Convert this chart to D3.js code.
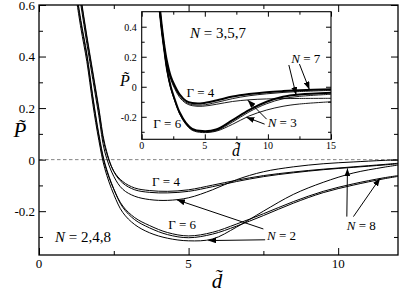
<!DOCTYPE html>
<html>
<head>
<meta charset="utf-8">
<script src="https://cdn.jsdelivr.net/npm/d3@7"></script>
<style>
  body { margin: 0; background: #fff; }
  text { font-family: "Liberation Serif", "DejaVu Serif", serif; fill: #000; }
</style>
</head>
<body>
<svg id="chart" width="399" height="290"></svg>
<script>
// main panel: N = 2,4,8 ; shared d grid
const dMain = [1.2, 1.4, 1.6, 1.8, 2.0, 2.2, 2.5, 2.8, 3.2, 3.7, 4.3, 5.0, 5.8, 6.6, 7.5, 8.5, 9.5, 10.5, 11.5, 12];
const g4n2 = [0.75, 0.60, 0.45, 0.31, 0.17, 0.03, -0.065, -0.115, -0.142, -0.155, -0.158, -0.148, -0.117, -0.078, -0.047, -0.028, -0.016, -0.009, -0.003, -0.001];
const g4n4 = [0.78, 0.62, 0.47, 0.33, 0.19, 0.05, -0.045, -0.085, -0.110, -0.120, -0.123, -0.117, -0.099, -0.080, -0.062, -0.048, -0.037, -0.028, -0.019, -0.014];
const g4n8 = [0.79, 0.63, 0.48, 0.34, 0.20, 0.06, -0.046, -0.091, -0.117, -0.127, -0.129, -0.123, -0.105, -0.085, -0.066, -0.051, -0.039, -0.030, -0.021, -0.016];
const g6n2 = [0.66, 0.51, 0.38, 0.215, 0.075, -0.035, -0.135, -0.205, -0.252, -0.284, -0.305, -0.315, -0.308, -0.262, -0.200, -0.135, -0.088, -0.052, -0.030, -0.021];
const g6n4 = [0.68, 0.53, 0.40, 0.235, 0.09, -0.020, -0.115, -0.180, -0.225, -0.256, -0.283, -0.296, -0.282, -0.250, -0.210, -0.163, -0.123, -0.094, -0.071, -0.062];
const g6n8 = [0.69, 0.54, 0.41, 0.245, 0.10, -0.013, -0.114, -0.185, -0.233, -0.265, -0.291, -0.303, -0.289, -0.258, -0.217, -0.169, -0.128, -0.099, -0.075, -0.065];

// inset: N = 3,5,7
const dInset = [1.4, 1.6, 1.8, 2.0, 2.3, 2.6, 3.0, 3.5, 4.0, 4.8, 5.9, 7.2, 8.5, 9.9, 11.2, 12.5, 15];
const i4n7 = [0.56, 0.40, 0.27, 0.17, 0.07, 0.01, -0.050, -0.093, -0.108, -0.110, -0.092, -0.065, -0.048, -0.036, -0.029, -0.024, -0.017];
const i4n5 = [0.55, 0.39, 0.26, 0.16, 0.06, 0.00, -0.060, -0.103, -0.119, -0.122, -0.105, -0.079, -0.060, -0.047, -0.038, -0.032, -0.024];
const i4n3 = [0.54, 0.38, 0.25, 0.15, 0.05, -0.01, -0.070, -0.110, -0.126, -0.130, -0.117, -0.098, -0.087, -0.081, -0.079, -0.078, -0.077];
const i6n7 = [0.53, 0.37, 0.24, 0.12, 0.00, -0.08, -0.170, -0.240, -0.280, -0.295, -0.285, -0.222, -0.155, -0.100, -0.067, -0.052, -0.040];
const i6n5 = [0.525, 0.365, 0.235, 0.115, -0.005, -0.085, -0.175, -0.245, -0.285, -0.300, -0.292, -0.235, -0.168, -0.113, -0.080, -0.064, -0.050];
const i6n3 = [0.52, 0.36, 0.23, 0.11, -0.01, -0.09, -0.180, -0.250, -0.290, -0.305, -0.296, -0.250, -0.195, -0.155, -0.130, -0.115, -0.100];

// tick labels
const mainXTicks = [0, 5, 10];
const mainYTicks = [-0.2, 0, 0.2, 0.4, 0.6];
const insetXTicks = [0, 5, 10, 15];
const insetYTicks = [-0.2, 0, 0.2, 0.4];

// annotations (data coords)
const mainLabels = [
  {n: "Γ", rest: " = 4", d: 3.78, p: -0.102, it: false},
  {n: "Γ", rest: " = 6", d: 4.32, p: -0.271, it: false},
  {n: "N", rest: " = 2", d: 7.62, p: -0.311, it: true},
  {n: "N", rest: " = 8", d: 10.29, p: -0.273, it: true}
];
const mainArrows = [
  [7.50, -0.269, 4.61, -0.156],
  [7.56, -0.311, 5.66, -0.314],
  [10.29, -0.221, 10.31, -0.034],
  [10.51, -0.221, 11.40, -0.072]
];
const insetLabels = [
  {n: "Γ", rest: " = 4", d: 3.55, p: -0.069, it: false},
  {n: "Γ", rest: " = 6", d: 0.92, p: -0.272, it: false},
  {n: "N", rest: " = 7", d: 11.85, p: 0.155, it: true},
  {n: "N", rest: " = 3", d: 9.98, p: -0.269, it: true}
];
const insetArrows = [
  [11.66, 0.145, 12.24, -0.055],
  [12.5, 0.151, 13.29, -0.019],
  [9.9, -0.216, 8.4, -0.089],
  [9.74, -0.249, 8.29, -0.203]
];

const svg = d3.select("#chart");

svg.append("defs").append("marker")
    .attr("id", "head")
    .attr("viewBox", "0 0 8 6")
    .attr("refX", 8).attr("refY", 3)
    .attr("markerWidth", 8).attr("markerHeight", 6)
    .attr("markerUnits", "userSpaceOnUse")
    .attr("orient", "auto")
  .append("path")
    .attr("d", "M0,0L8,3L0,6z")
    .attr("fill", "#000");

function drawPanel(g, o) {
  const x = o.x, y = o.y;
  const [x0, x1] = x.range(), [y0, y1] = y.range();
  const id = o.id;
  g.append("clipPath").attr("id", id)
    .append("rect").attr("x", x0).attr("y", y1).attr("width", x1 - x0).attr("height", y0 - y1);

  g.append("rect")
    .attr("x", x0).attr("y", y1).attr("width", x1 - x0).attr("height", y0 - y1)
    .attr("fill", "#fff");

  if (o.zeroLine) {
    g.append("line")
      .attr("x1", x0).attr("x2", x1).attr("y1", y(0)).attr("y2", y(0))
      .attr("stroke", "#777").attr("stroke-width", 0.9).attr("stroke-dasharray", "3.5,2.5");
  }

  // ticks on all four sides, pointing inward
  const mk = (axisFn, scale, vals, size, tr) => {
    const a = g.append("g").attr("transform", tr)
      .call(axisFn(scale).tickValues(vals).tickSize(size).tickFormat(""));
    a.select(".domain").remove();
    a.selectAll("line").attr("stroke", "#000").attr("stroke-width", 1);
  };
  mk(d3.axisBottom, x, o.xMajor, -o.major, `translate(0,${y0})`);
  mk(d3.axisBottom, x, o.xMinor, -o.minor, `translate(0,${y0})`);
  mk(d3.axisTop, x, o.xMajor, -o.major, `translate(0,${y1})`);
  mk(d3.axisTop, x, o.xMinor, -o.minor, `translate(0,${y1})`);
  mk(d3.axisLeft, y, o.yMajor, -o.major, `translate(${x0},0)`);
  mk(d3.axisLeft, y, o.yMinor, -o.minor, `translate(${x0},0)`);
  mk(d3.axisRight, y, o.yMajor, -o.major, `translate(${x1},0)`);
  mk(d3.axisRight, y, o.yMinor, -o.minor, `translate(${x1},0)`);

  const line = d3.line().x(d => x(d[0])).y(d => y(d[1])).curve(d3.curveCatmullRom.alpha(0.5));
  g.append("g").attr("clip-path", `url(#${id})`)
    .selectAll("path").data(o.series).join("path")
      .attr("d", s => line(o.grid.map((d, i) => [d, s.v[i]])))
      .attr("fill", "none").attr("stroke", "#000")
      .attr("stroke-width", s => s.w);

  g.append("rect")
    .attr("x", x0).attr("y", y1).attr("width", x1 - x0).attr("height", y0 - y1)
    .attr("fill", "none").attr("stroke", "#000").attr("stroke-width", o.frame);

  g.append("g").selectAll("text").data(o.xTicks).join("text")
    .attr("x", d => x(d)).attr("y", y0 + o.xLabOff)
    .attr("text-anchor", "middle").attr("font-size", o.tickFont)
    .text(d => d);
  g.append("g").selectAll("text").data(o.yTicks).join("text")
    .attr("x", x0 - o.yLabOff).attr("y", d => y(d)).attr("dy", "0.38em")
    .attr("text-anchor", "end").attr("font-size", o.tickFont)
    .text(d => d);

  g.append("g").selectAll("line").data(o.arrows).join("line")
    .attr("x1", a => x(a[0])).attr("y1", a => y(a[1]))
    .attr("x2", a => x(a[2])).attr("y2", a => y(a[3]))
    .attr("stroke", "#000").attr("stroke-width", 1)
    .attr("marker-end", "url(#head)");

  const lab = g.append("g").selectAll("text").data(o.labels).join("text")
    .attr("x", l => x(l.d)).attr("y", l => y(l.p))
    .attr("font-size", o.labFont);
  lab.append("tspan").attr("font-style", l => l.it ? "italic" : "normal").text(l => l.n);
  lab.append("tspan").text(l => l.rest);
}

// main panel
const x = d3.scaleLinear([0, 12], [39, 398]);
const y = d3.scaleLinear([-0.37, 0.6], [255, 5]);
drawPanel(svg.append("g"), {
  id: "clipMain", x, y, zeroLine: true,
  xMajor: [0, 5, 10], xMinor: [2.5, 7.5],
  yMajor: [-0.2, 0, 0.2, 0.4, 0.6], yMinor: [-0.3, -0.1, 0.1, 0.3, 0.5],
  major: 7, minor: 4, frame: 1.3,
  grid: dMain,
  series: [g4n2, g4n4, g4n8, g6n2, g6n4, g6n8].map(v => ({v, w: 1})),
  xTicks: mainXTicks, yTicks: mainYTicks, tickFont: 13, xLabOff: 13, yLabOff: 4,
  arrows: mainArrows, labels: mainLabels, labFont: 13
});

svg.append("text").attr("x", 55).attr("y", 242).attr("font-size", 15)
  .call(t => { t.append("tspan").attr("font-style", "italic").text("N"); t.append("tspan").text(" = 2,4,8"); });

svg.append("text").attr("x", 217).attr("y", 288).attr("text-anchor", "middle")
  .attr("font-size", 21).attr("font-style", "italic").text("d\u0303");
svg.append("text").attr("x", 20).attr("y", 137).attr("text-anchor", "middle")
  .attr("font-size", 21).attr("font-style", "italic").text("P\u0303");

// inset panel
const xi = d3.scaleLinear([0, 15], [141.7, 331]);
const yi = d3.scaleLinear([-0.35, 0.5], [139.3, 11.7]);
drawPanel(svg.append("g"), {
  id: "clipInset", x: xi, y: yi, zeroLine: false,
  xMajor: [0, 5, 10, 15], xMinor: [2.5, 7.5, 12.5],
  yMajor: [-0.2, 0, 0.2, 0.4], yMinor: [-0.3, -0.1, 0.1, 0.3],
  major: 5, minor: 3, frame: 1.1,
  grid: dInset,
  series: [{v: i4n7, w: 2}, {v: i4n5, w: 0.9}, {v: i4n3, w: 0.9},
           {v: i6n7, w: 2}, {v: i6n5, w: 0.9}, {v: i6n3, w: 0.9}],
  xTicks: insetXTicks, yTicks: insetYTicks, tickFont: 10, xLabOff: 10, yLabOff: 5,
  arrows: insetArrows, labels: insetLabels, labFont: 13
});

svg.append("text").attr("x", 190).attr("y", 38).attr("font-size", 15)
  .call(t => { t.append("tspan").attr("font-style", "italic").text("N"); t.append("tspan").text(" = 3,5,7"); });
svg.append("text").attr("x", 236).attr("y", 156).attr("text-anchor", "middle")
  .attr("font-size", 16).attr("font-style", "italic").text("d\u0303");
svg.append("text").attr("x", 125).attr("y", 86).attr("text-anchor", "middle")
  .attr("font-size", 16).attr("font-style", "italic").text("P\u0303");
</script>
</body>
</html>
